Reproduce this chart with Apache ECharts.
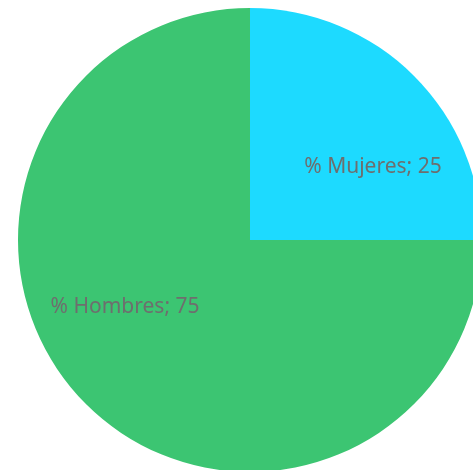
<!DOCTYPE html>
<html>
<head>
<meta charset="utf-8">
<script src="https://cdn.jsdelivr.net/npm/echarts@6/dist/echarts.min.js"></script>
<style>
  html, body { margin: 0; padding: 0; background: #fff; }
  #chart { width: 473px; height: 470px; }
</style>
</head>
<body>
<div id="chart"></div>
<script>
// datos del gráfico
var categories = ['% Mujeres', '% Hombres'];
var values = [25, 75];
var colors = ['#1ddaff', '#3cc572'];
// posiciones de las etiquetas (como en el original)
var labelPos = [[373, 167], [125, 307]];

var chart = echarts.init(document.getElementById('chart'));

var data = categories.map(function (name, i) {
    return { name: name, value: values[i], itemStyle: { color: colors[i] } };
});

chart.setOption({
    animation: false,
    series: [{
        type: 'pie',
        center: [250, 240],
        radius: 232,
        startAngle: 90,
        clockwise: true,
        silent: true,
        data: data,
        label: {
            show: true,
            position: 'inside',
            formatter: '{b}; {c}',
            color: '#6e6e6e',
            fontFamily: 'Noto Sans',
            fontSize: 21
        },
        labelLine: { show: false },
        labelLayout: function (params) {
            var p = labelPos[params.dataIndex];
            return { x: p[0], y: p[1], align: 'center', verticalAlign: 'middle' };
        }
    }]
});
</script>
</body>
</html>
